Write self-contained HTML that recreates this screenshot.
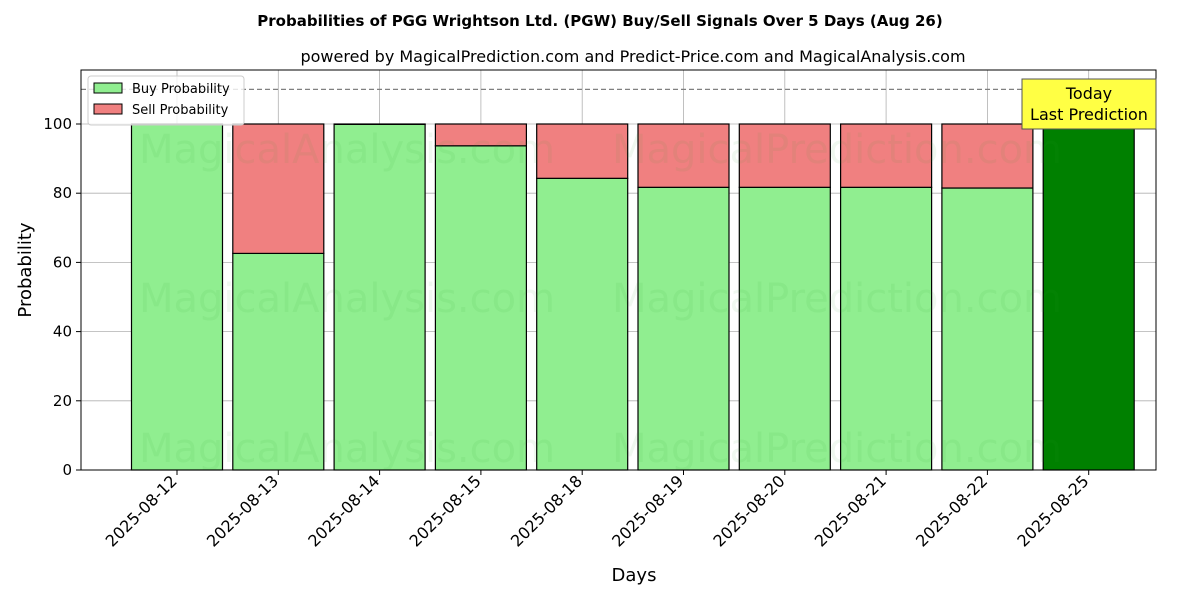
<!DOCTYPE html>
<html><head><meta charset="utf-8"><style>body{margin:0;background:#fff}svg{display:block;font-family:"DejaVu Sans","Liberation Sans",sans-serif}</style></head>
<body>
<svg id="chart" width="1200" height="600" xmlns="http://www.w3.org/2000/svg">
<text x="600" y="26" text-anchor="middle" font-size="15" font-weight="bold">Probabilities of PGG Wrightson Ltd. (PGW) Buy/Sell Signals Over 5 Days (Aug 26)</text>
<text x="633" y="62" text-anchor="middle" font-size="16">powered by MagicalPrediction.com and Predict-Price.com and MagicalAnalysis.com</text>
<g id="grid"></g>
<g id="bars"></g>
<g id="wm" font-size="40" fill="#2ca02c" fill-opacity="0.07" text-anchor="middle">
<text x="347" y="163">MagicalAnalysis.com</text><text x="837" y="163">MagicalPrediction.com</text>
<text x="347" y="312">MagicalAnalysis.com</text><text x="837" y="312">MagicalPrediction.com</text>
<text x="347" y="462">MagicalAnalysis.com</text><text x="837" y="462">MagicalPrediction.com</text>
</g>
<line x1="81" x2="1156" y1="89.4" y2="89.4" stroke="#808080" stroke-dasharray="5,3" stroke-width="1.2"/>
<rect x="81" y="70" width="1075" height="400" fill="none" stroke="#000" stroke-width="1"/>
<g id="axes"></g>
<text transform="translate(31,270) rotate(-90)" text-anchor="middle" font-size="18">Probability</text>
<text x="634" y="581" text-anchor="middle" font-size="18">Days</text>
<g>
<rect x="88" y="76" width="156" height="49" fill="#fff" fill-opacity="0.8" stroke="#ccc" rx="3"/>
<rect x="94" y="83" width="28" height="10" fill="#90ee90" stroke="#000"/>
<text x="132" y="93" font-size="13">Buy Probability</text>
<rect x="94" y="104" width="28" height="10" fill="#f08080" stroke="#000"/>
<text x="132" y="114" font-size="13">Sell Probability</text>
</g>
<g>
<rect x="1022" y="79" width="134" height="50" fill="#ffff44" stroke="#555"/>
<text x="1089" y="99" text-anchor="middle" font-size="16">Today</text>
<text x="1089" y="120" text-anchor="middle" font-size="16">Last Prediction</text>
</g>
</svg>
<script>
const categories=["2025-08-12","2025-08-13","2025-08-14","2025-08-15","2025-08-18","2025-08-19","2025-08-20","2025-08-21","2025-08-22","2025-08-25"];
const buyValues=[100,62.6,99.9,93.7,84.3,81.7,81.7,81.7,81.5,100];
const sellValues=[0,37.4,0.1,6.3,15.7,18.3,18.3,18.3,18.5,0];
const yTicks=[0,20,40,60,80,100];
const NS="http://www.w3.org/2000/svg";
const X=i=>177+i*101.3, Y=v=>470-v*3.46, BW=91;
function mk(tag,attrs,parent){const e=document.createElementNS(NS,tag);for(const k in attrs)e.setAttribute(k,attrs[k]);parent.appendChild(e);return e;}
const grid=document.getElementById('grid'),bars=document.getElementById('bars'),axes=document.getElementById('axes');
yTicks.forEach(t=>{
 const l=mk('line',{x1:81,x2:1156,y1:Y(t),y2:Y(t),stroke:'#b0b0b0','stroke-width':0.8},grid);
 
 
 const tk=mk('line',{x1:76,x2:81,y1:Y(t),y2:Y(t),stroke:'#000'},axes);
 
 
 const tx=mk('text',{x:72,y:Y(t)+5,'text-anchor':'end','font-size':15},axes);
 tx.textContent=t;
 
 
});
categories.forEach((c,i)=>{
 const l=mk('line',{x1:X(i),x2:X(i),y1:70,y2:470,stroke:'#b0b0b0','stroke-width':0.8},grid);
 
 
 const last=i===categories.length-1;
 const b=mk('rect',{x:X(i)-BW/2,y:Y(buyValues[i]),width:BW,height:Y(0)-Y(buyValues[i]),fill:last?'#008000':'#90ee90',stroke:'#000','stroke-width':1.2},bars);
 
 
 if(sellValues[i]>0){
  const s=mk('rect',{x:X(i)-BW/2,y:Y(buyValues[i]+sellValues[i]),width:BW,height:Y(buyValues[i])-Y(buyValues[i]+sellValues[i]),fill:'#f08080',stroke:'#000','stroke-width':1.2},bars);
  
  
 }
 const tk=mk('line',{x1:X(i),x2:X(i),y1:470,y2:475,stroke:'#000'},axes);
 
 
 const tx=mk('text',{transform:`translate(${X(i)+1},${482}) rotate(-45)`,'text-anchor':'end','font-size':16},axes);
 tx.textContent=c;
 
 
});
</script>
</body></html>
